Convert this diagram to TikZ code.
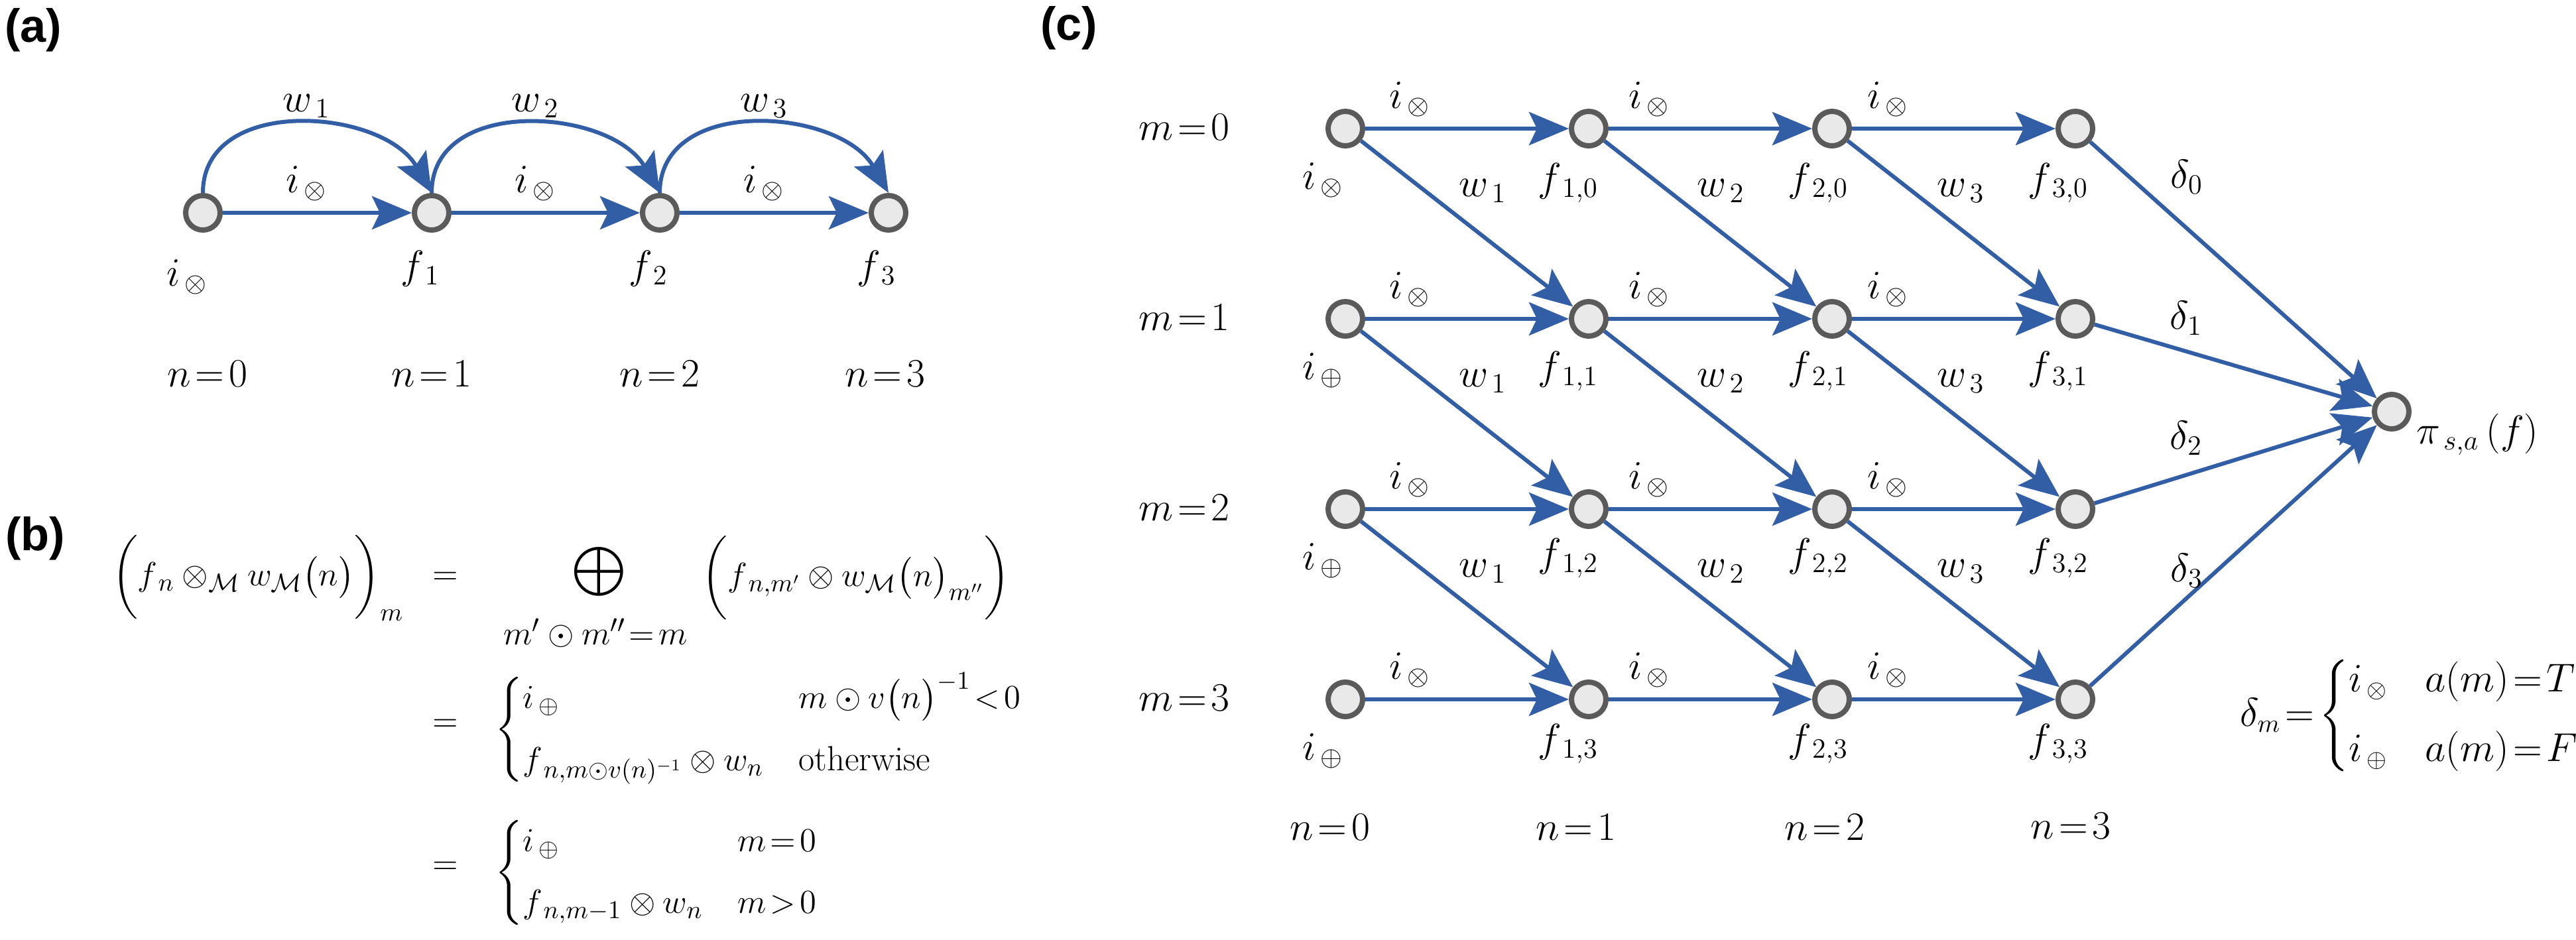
\documentclass[tikz,border=0pt]{standalone}
\usepackage{amsmath}
\usepackage{amssymb}
\usepackage{fontspec}
\usepackage{tikz}
\usetikzlibrary{positioning}
\usetikzlibrary{arrows.meta}
\newfontfamily\panelfont{Liberation Sans}
\definecolor{edgeblue}{RGB}{50,94,166}
\definecolor{ringgray}{RGB}{90,90,90}
\definecolor{ringfill}{RGB}{233,233,233}

\begin{document}
\begin{tikzpicture}[font=\fontsize{18}{21}\selectfont, inner sep=1pt,
		flow/.style={draw=edgeblue, line width=0.06cm, -{Stealth[length=0.6cm, width=0.5cm, inset=0.12cm]}},
		panel/.style={font=\panelfont\bfseries\fontsize{20}{24}\selectfont}]
		\useasboundingbox (0,0) rectangle (38.85,-14.18);
		\node[panel] (tagA) at (0.50,-0.45) {(a)};
		\node[panel] (tagB) at (0.53,-8.12) {(b)};
		\node[panel] (tagC) at (16.12,-0.42) {(c)};
		\begin{scope}[every node/.style={draw=ringgray, fill=ringfill, circle, line width=0.08cm, minimum size=0.52cm, inner sep=0pt}]
			\node (p0) at (3.06,-3.21) {};
			\node (p1) at (6.51,-3.21) {};
			\node (p2) at (9.95,-3.21) {};
			\node (p3) at (13.40,-3.21) {};
			\node (g00) at (20.29,-1.94) {};
			\node (g01) at (20.29,-4.81) {};
			\node (g02) at (20.29,-7.68) {};
			\node (g03) at (20.29,-10.55) {};
			\node (g10) at (23.96,-1.94) {};
			\node (g11) at (23.96,-4.81) {};
			\node (g12) at (23.96,-7.68) {};
			\node (g13) at (23.96,-10.55) {};
			\node (g20) at (27.63,-1.94) {};
			\node (g21) at (27.63,-4.81) {};
			\node (g22) at (27.63,-7.68) {};
			\node (g23) at (27.63,-10.55) {};
			\node (g30) at (31.30,-1.94) {};
			\node (g31) at (31.30,-4.81) {};
			\node (g32) at (31.30,-7.68) {};
			\node (g33) at (31.30,-10.55) {};
			\node (pi) at (36.07,-6.21) {};
		\end{scope}
		\draw[flow] (p0) -- (p1);
		\draw[flow] (p1) -- (p2);
		\draw[flow] (p2) -- (p3);
		\draw[flow] (p0.north) to[out=90, in=120, looseness=1.1] (p1.north);
		\draw[flow] (p1.north) to[out=90, in=120, looseness=1.1] (p2.north);
		\draw[flow] (p2.north) to[out=90, in=120, looseness=1.1] (p3.north);
		\node (w1) at (4.62,-1.60) {$w_{\,1}$};
		\node (w2) at (8.07,-1.60) {$w_{\,2}$};
		\node (w3) at (11.52,-1.60) {$w_{\,3}$};
		\node (ia1) at (4.62,-2.77) {$i_{\,\otimes}$};
		\node (ia2) at (8.07,-2.77) {$i_{\,\otimes}$};
		\node (ia3) at (11.52,-2.77) {$i_{\,\otimes}$};
		\node (fa0) at (2.82,-4.18) {$i_{\,\otimes}$};
		\node (fa1) at (6.34,-4.05) {$f_{\,1}$};
		\node (fa2) at (9.78,-4.05) {$f_{\,2}$};
		\node (fa3) at (13.22,-4.05) {$f_{\,3}$};
		\node (na0) at (3.13,-5.64) {$n\!=\!0$};
		\node (na1) at (6.51,-5.64) {$n\!=\!1$};
		\node (na2) at (9.95,-5.64) {$n\!=\!2$};
		\node (na3) at (13.35,-5.64) {$n\!=\!3$};
		\begin{scope}[font=\fontsize{15}{18}\selectfont]
			\node (lhs) at (3.89,-8.72) {$\biggl(f_{\,n}\otimes_{\mathcal{M}} w_{\mathcal{M}}\bigl(n\bigr)\biggr)_m$};
			\node (eq1) at (6.72,-8.72) {$=$};
			\node (sum) at (9.03,-8.62) {$\displaystyle\bigoplus$};
			\node (sumidx) at (8.98,-9.55) {$m'\odot m''\!=\!m$};
			\node (rhs) at (12.91,-8.72) {$\biggl(f_{\,n,m'}\otimes w_{\mathcal{M}}\bigl(n\bigr)_{m''}\biggr)$};
			\node (eq2) at (6.72,-10.94) {$=$};
			\node[anchor=west] (caseA) at (7.42,-11.00) {$\begin{cases} i_{\,\oplus} & m\odot v\bigl(n\bigr)^{-1}\!<\!0\\[5pt] f_{\,n,m\odot v(n)^{-1}}\otimes w_n & \text{otherwise}\end{cases}$};
			\node (eq3) at (6.72,-13.09) {$=$};
			\node[anchor=west] (caseB) at (7.42,-13.16) {$\begin{cases} i_{\,\oplus} & m\!=\!0\\[5pt] f_{\,n,m-1}\otimes w_n & m\!>\!0\end{cases}$};
		\end{scope}
		\draw[flow] (g00) -- (g10);
		\draw[flow] (g10) -- (g20);
		\draw[flow] (g20) -- (g30);
		\draw[flow] (g01) -- (g11);
		\draw[flow] (g11) -- (g21);
		\draw[flow] (g21) -- (g31);
		\draw[flow] (g02) -- (g12);
		\draw[flow] (g12) -- (g22);
		\draw[flow] (g22) -- (g32);
		\draw[flow] (g03) -- (g13);
		\draw[flow] (g13) -- (g23);
		\draw[flow] (g23) -- (g33);
		\draw[flow] (g00) -- (g11);
		\draw[flow] (g01) -- (g12);
		\draw[flow] (g02) -- (g13);
		\draw[flow] (g10) -- (g21);
		\draw[flow] (g11) -- (g22);
		\draw[flow] (g12) -- (g23);
		\draw[flow] (g20) -- (g31);
		\draw[flow] (g21) -- (g32);
		\draw[flow] (g22) -- (g33);
		\draw[flow] (g30) -- (pi);
		\draw[flow] (g31) -- (pi);
		\draw[flow] (g32) -- (pi);
		\draw[flow] (g33) -- (pi);
		\node (m0) at (17.86,-1.92) {$m\!=\!0$};
		\node (m1) at (17.86,-4.79) {$m\!=\!1$};
		\node (m2) at (17.86,-7.66) {$m\!=\!2$};
		\node (m3) at (17.86,-10.53) {$m\!=\!3$};
		\node (t00) at (21.26,-1.50) {$i_{\,\otimes}$};
		\node (t10) at (24.87,-1.50) {$i_{\,\otimes}$};
		\node (t20) at (28.47,-1.50) {$i_{\,\otimes}$};
		\node (t01) at (21.26,-4.37) {$i_{\,\otimes}$};
		\node (t11) at (24.87,-4.37) {$i_{\,\otimes}$};
		\node (t21) at (28.47,-4.37) {$i_{\,\otimes}$};
		\node (t02) at (21.26,-7.24) {$i_{\,\otimes}$};
		\node (t12) at (24.87,-7.24) {$i_{\,\otimes}$};
		\node (t22) at (28.47,-7.24) {$i_{\,\otimes}$};
		\node (t03) at (21.26,-10.11) {$i_{\,\otimes}$};
		\node (t13) at (24.87,-10.11) {$i_{\,\otimes}$};
		\node (t23) at (28.47,-10.11) {$i_{\,\otimes}$};
		\node (b0) at (19.95,-2.72) {$i_{\,\otimes}$};
		\node (b1) at (19.95,-5.59) {$i_{\,\oplus}$};
		\node (b2) at (19.95,-8.46) {$i_{\,\oplus}$};
		\node (b3) at (19.95,-11.33) {$i_{\,\oplus}$};
		\node (w10) at (22.36,-2.88) {$w_{\,1}$};
		\node (w11) at (22.36,-5.75) {$w_{\,1}$};
		\node (w12) at (22.36,-8.62) {$w_{\,1}$};
		\node (w20) at (25.95,-2.88) {$w_{\,2}$};
		\node (w21) at (25.95,-5.75) {$w_{\,2}$};
		\node (w22) at (25.95,-8.62) {$w_{\,2}$};
		\node (w30) at (29.57,-2.88) {$w_{\,3}$};
		\node (w31) at (29.57,-5.75) {$w_{\,3}$};
		\node (w32) at (29.57,-8.62) {$w_{\,3}$};
		\node (l10) at (23.65,-2.76) {$f_{\,1,0}$};
		\node (l11) at (23.65,-5.60) {$f_{\,1,1}$};
		\node (l12) at (23.65,-8.42) {$f_{\,1,2}$};
		\node (l13) at (23.65,-11.22) {$f_{\,1,3}$};
		\node (l20) at (27.42,-2.76) {$f_{\,2,0}$};
		\node (l21) at (27.42,-5.60) {$f_{\,2,1}$};
		\node (l22) at (27.42,-8.42) {$f_{\,2,2}$};
		\node (l23) at (27.42,-11.22) {$f_{\,2,3}$};
		\node (l30) at (31.04,-2.76) {$f_{\,3,0}$};
		\node (l31) at (31.04,-5.60) {$f_{\,3,1}$};
		\node (l32) at (31.04,-8.42) {$f_{\,3,2}$};
		\node (l33) at (31.04,-11.22) {$f_{\,3,3}$};
		\node (nc0) at (20.06,-12.48) {$n\!=\!0$};
		\node (nc1) at (23.77,-12.48) {$n\!=\!1$};
		\node (nc2) at (27.52,-12.48) {$n\!=\!2$};
		\node (nc3) at (31.23,-12.46) {$n\!=\!3$};
		\node (d0) at (32.98,-2.67) {$\delta_0$};
		\node (d1) at (32.97,-4.80) {$\delta_1$};
		\node (d2) at (32.97,-6.61) {$\delta_2$};
		\node (d3) at (32.98,-8.61) {$\delta_3$};
		\node[anchor=west] (pilabel) at (36.40,-6.55) {$\pi_{\,s,a}\,(f)$};
		\node[anchor=west, font=\fontsize{16}{19}\selectfont] (deltadef) at (33.74,-10.80) {$\delta_m\!=\!\begin{cases} i_{\,\otimes} & a(m)\!=\!T\\[7pt] i_{\,\oplus} & a(m)\!=\!F\end{cases}$};
	\end{tikzpicture}
\end{document}
